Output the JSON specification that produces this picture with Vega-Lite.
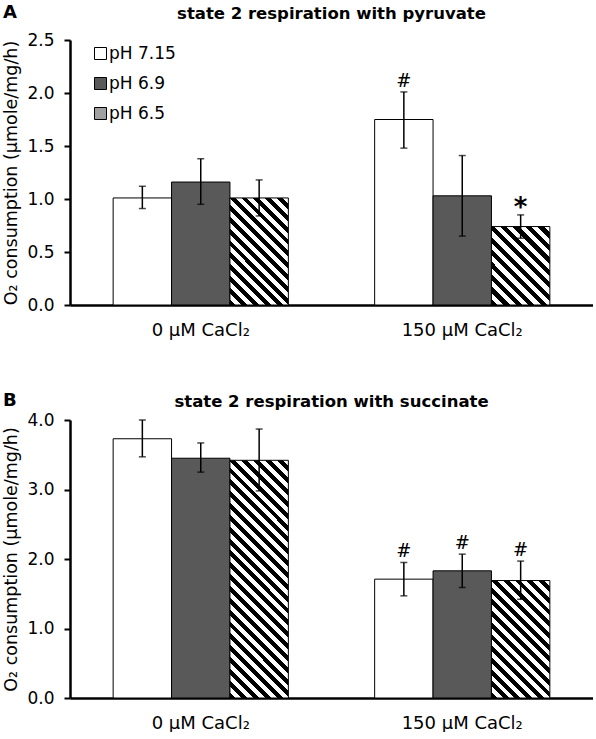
{
  "$schema": "https://vega.github.io/schema/vega-lite/v6.json",
  "padding": {"left": 2, "right": 0, "top": 3, "bottom": 0},
  "config": {
    "font": "DejaVu Sans",
    "view": {"stroke": null},
    "title": {"fontSize": 16.5, "fontWeight": "bold", "color": "#000", "font": "DejaVu Sans"},
    "axisY": {"domainColor": "#000", "domainWidth": 2.5, "tickColor": "#000", "tickWidth": 2, "tickSize": 6, "labelFontSize": 17, "labelColor": "#000", "labelPadding": 10, "titleFontSize": 17.5, "titleFontWeight": "normal", "titleColor": "#000", "titlePadding": 6, "grid": false},
    "axisX": {"domainColor": "#000", "domainWidth": 2.5, "ticks": false, "labelFontSize": 18, "labelColor": "#000", "labelPadding": 16, "labelAngle": 0, "grid": false}
  },
  "datasets": {
    "A": [
      {"cond": "0 µM CaCl₂", "pH": "pH 7.15", "mean": 1.01, "lo": 0.91, "hi": 1.12, "sig": ""},
      {"cond": "0 µM CaCl₂", "pH": "pH 6.9", "mean": 1.16, "lo": 0.95, "hi": 1.38, "sig": ""},
      {"cond": "0 µM CaCl₂", "pH": "pH 6.5", "mean": 1.01, "lo": 0.84, "hi": 1.18, "sig": ""},
      {"cond": "150 µM CaCl₂", "pH": "pH 7.15", "mean": 1.75, "lo": 1.48, "hi": 2.01, "sig": "#"},
      {"cond": "150 µM CaCl₂", "pH": "pH 6.9", "mean": 1.03, "lo": 0.65, "hi": 1.41, "sig": ""},
      {"cond": "150 µM CaCl₂", "pH": "pH 6.5", "mean": 0.74, "lo": 0.63, "hi": 0.85, "sig": "*"}
    ],
    "B": [
      {"cond": "0 µM CaCl₂", "pH": "pH 7.15", "mean": 3.73, "lo": 3.47, "hi": 4.0, "sig": ""},
      {"cond": "0 µM CaCl₂", "pH": "pH 6.9", "mean": 3.45, "lo": 3.25, "hi": 3.67, "sig": ""},
      {"cond": "0 µM CaCl₂", "pH": "pH 6.5", "mean": 3.42, "lo": 2.98, "hi": 3.87, "sig": ""},
      {"cond": "150 µM CaCl₂", "pH": "pH 7.15", "mean": 1.71, "lo": 1.47, "hi": 1.95, "sig": "#"},
      {"cond": "150 µM CaCl₂", "pH": "pH 6.9", "mean": 1.83, "lo": 1.59, "hi": 2.07, "sig": "#"},
      {"cond": "150 µM CaCl₂", "pH": "pH 6.5", "mean": 1.69, "lo": 1.42, "hi": 1.97, "sig": "#"}
    ]
  },
  "spacing": 52,
  "resolve": {"scale": {"fill": "independent"}},
  "vconcat": [
    {
      "title": {"text": "A", "anchor": "start", "frame": "bounds", "fontSize": 18, "dy": 20},
      "resolve": {"scale": {"fill": "independent"}},
      "vconcat": [
        {
          "title": {"text": "state 2 respiration with pyruvate", "anchor": "middle", "frame": "group", "offset": 9},
          "width": 523,
          "height": 265,
          "data": {"name": "A"},
          "encoding": {
            "x": {"field": "cond", "type": "nominal", "sort": ["0 µM CaCl₂", "150 µM CaCl₂"], "scale": {"paddingInner": 0.33, "paddingOuter": 0.165}, "title": null},
            "xOffset": {"field": "pH", "type": "nominal", "sort": ["pH 7.15", "pH 6.9", "pH 6.5"], "scale": {"paddingInner": 0, "paddingOuter": 0}}
          },
          "layer": [
            {
              "mark": {"type": "bar", "stroke": "#000", "strokeWidth": 1},
              "encoding": {
                "y": {"field": "mean", "type": "quantitative", "scale": {"domain": [0, 2.5], "nice": false}, "axis": {"values": [0, 0.5, 1, 1.5, 2, 2.5], "format": ".1f"}, "title": "O₂ consumption (µmole/mg/h)"},
                "fill": {
                  "condition": [
                    {"test": "datum.pH === 'pH 6.5' && datum.cond === '0 µM CaCl₂'", "value": {"gradient": "linear", "x1": 0, "y1": 1, "x2": 0.65, "y2": -0.19, "stops": [
                      {"offset": 0, "color": "black"}, {"offset": 0.0357, "color": "black"}, {"offset": 0.0357, "color": "white"}, {"offset": 0.0714, "color": "white"},
                      {"offset": 0.0714, "color": "black"}, {"offset": 0.1071, "color": "black"}, {"offset": 0.1071, "color": "white"}, {"offset": 0.1429, "color": "white"},
                      {"offset": 0.1429, "color": "black"}, {"offset": 0.1786, "color": "black"}, {"offset": 0.1786, "color": "white"}, {"offset": 0.2143, "color": "white"},
                      {"offset": 0.2143, "color": "black"}, {"offset": 0.25, "color": "black"}, {"offset": 0.25, "color": "white"}, {"offset": 0.2857, "color": "white"},
                      {"offset": 0.2857, "color": "black"}, {"offset": 0.3214, "color": "black"}, {"offset": 0.3214, "color": "white"}, {"offset": 0.3571, "color": "white"},
                      {"offset": 0.3571, "color": "black"}, {"offset": 0.3929, "color": "black"}, {"offset": 0.3929, "color": "white"}, {"offset": 0.4286, "color": "white"},
                      {"offset": 0.4286, "color": "black"}, {"offset": 0.4643, "color": "black"}, {"offset": 0.4643, "color": "white"}, {"offset": 0.5, "color": "white"},
                      {"offset": 0.5, "color": "black"}, {"offset": 0.5357, "color": "black"}, {"offset": 0.5357, "color": "white"}, {"offset": 0.5714, "color": "white"},
                      {"offset": 0.5714, "color": "black"}, {"offset": 0.6071, "color": "black"}, {"offset": 0.6071, "color": "white"}, {"offset": 0.6429, "color": "white"},
                      {"offset": 0.6429, "color": "black"}, {"offset": 0.6786, "color": "black"}, {"offset": 0.6786, "color": "white"}, {"offset": 0.7143, "color": "white"},
                      {"offset": 0.7143, "color": "black"}, {"offset": 0.75, "color": "black"}, {"offset": 0.75, "color": "white"}, {"offset": 0.7857, "color": "white"},
                      {"offset": 0.7857, "color": "black"}, {"offset": 0.8214, "color": "black"}, {"offset": 0.8214, "color": "white"}, {"offset": 0.8571, "color": "white"},
                      {"offset": 0.8571, "color": "black"}, {"offset": 0.8929, "color": "black"}, {"offset": 0.8929, "color": "white"}, {"offset": 0.9286, "color": "white"},
                      {"offset": 0.9286, "color": "black"}, {"offset": 0.9643, "color": "black"}, {"offset": 0.9643, "color": "white"}, {"offset": 1, "color": "white"}
                    ]}},
                    {"test": "datum.pH === 'pH 6.5' && datum.cond === '150 µM CaCl₂'", "value": {"gradient": "linear", "x1": 0, "y1": 1, "x2": 0.836, "y2": -0.122, "stops": [
                      {"offset": 0, "color": "black"}, {"offset": 0.0455, "color": "black"}, {"offset": 0.0455, "color": "white"}, {"offset": 0.0909, "color": "white"},
                      {"offset": 0.0909, "color": "black"}, {"offset": 0.1364, "color": "black"}, {"offset": 0.1364, "color": "white"}, {"offset": 0.1818, "color": "white"},
                      {"offset": 0.1818, "color": "black"}, {"offset": 0.2273, "color": "black"}, {"offset": 0.2273, "color": "white"}, {"offset": 0.2727, "color": "white"},
                      {"offset": 0.2727, "color": "black"}, {"offset": 0.3182, "color": "black"}, {"offset": 0.3182, "color": "white"}, {"offset": 0.3636, "color": "white"},
                      {"offset": 0.3636, "color": "black"}, {"offset": 0.4091, "color": "black"}, {"offset": 0.4091, "color": "white"}, {"offset": 0.4545, "color": "white"},
                      {"offset": 0.4545, "color": "black"}, {"offset": 0.5, "color": "black"}, {"offset": 0.5, "color": "white"}, {"offset": 0.5455, "color": "white"},
                      {"offset": 0.5455, "color": "black"}, {"offset": 0.5909, "color": "black"}, {"offset": 0.5909, "color": "white"}, {"offset": 0.6364, "color": "white"},
                      {"offset": 0.6364, "color": "black"}, {"offset": 0.6818, "color": "black"}, {"offset": 0.6818, "color": "white"}, {"offset": 0.7273, "color": "white"},
                      {"offset": 0.7273, "color": "black"}, {"offset": 0.7727, "color": "black"}, {"offset": 0.7727, "color": "white"}, {"offset": 0.8182, "color": "white"},
                      {"offset": 0.8182, "color": "black"}, {"offset": 0.8636, "color": "black"}, {"offset": 0.8636, "color": "white"}, {"offset": 0.9091, "color": "white"},
                      {"offset": 0.9091, "color": "black"}, {"offset": 0.9545, "color": "black"}, {"offset": 0.9545, "color": "white"}, {"offset": 1, "color": "white"}
                    ]}}
                  ],
                  "field": "pH",
                  "type": "nominal",
                  "sort": ["pH 7.15", "pH 6.9", "pH 6.5"],
                  "scale": {"domain": ["pH 7.15", "pH 6.9", "pH 6.5"], "range": ["#ffffff", "#595959", "#a0a0a0"]},
                  "legend": {
                    "orient": "none", "legendX": 22, "legendY": 5, "title": null, "symbolType": "square", "symbolSize": 144, "symbolStrokeColor": "#000", "symbolStrokeWidth": 1, "symbolOpacity": 1, "labelFontSize": 17, "labelColor": "#000", "rowPadding": 12, "labelOffset": 0,
                    "encode": {"symbols": {"update": {
                      "fill": {"signal": "datum.value === 'pH 7.15' ? '#ffffff' : (datum.value === 'pH 6.9' ? '#595959' : {gradient: 'linear', x1: 0, y1: 1, x2: 1, y2: 0, stops: [{offset: 0, color: 'black'}, {offset: 0.3, color: 'black'}, {offset: 0.3, color: 'white'}, {offset: 0.5, color: 'white'}, {offset: 0.5, color: 'black'}, {offset: 0.7, color: 'black'}, {offset: 0.7, color: 'white'}, {offset: 1, color: 'white'}]})"},
                      "stroke": {"value": "#000"},
                      "strokeWidth": {"value": 1}
                    }}}
                  }
                }
              }
            },
            {
              "mark": {"type": "rule", "color": "#000", "strokeWidth": 1.5},
              "encoding": {
                "y": {"field": "lo", "type": "quantitative", "title": "O₂ consumption (µmole/mg/h)"},
                "y2": {"field": "hi"}
              }
            },
            {
              "mark": {"type": "tick", "orient": "horizontal", "color": "#000", "size": 7, "thickness": 1.5},
              "encoding": {"y": {"field": "lo", "type": "quantitative", "title": "O₂ consumption (µmole/mg/h)"}}
            },
            {
              "mark": {"type": "tick", "orient": "horizontal", "color": "#000", "size": 7, "thickness": 1.5},
              "encoding": {"y": {"field": "hi", "type": "quantitative", "title": "O₂ consumption (µmole/mg/h)"}}
            },
            {
              "transform": [{"filter": "datum.sig === '#'"}],
              "mark": {"type": "text", "font": "DejaVu Serif", "fontSize": 18, "baseline": "alphabetic", "dy": -5, "color": "#000"},
              "encoding": {"y": {"field": "hi", "type": "quantitative", "title": "O₂ consumption (µmole/mg/h)"}, "text": {"field": "sig"}}
            },
            {
              "transform": [{"filter": "datum.sig === '*'"}],
              "mark": {"type": "text", "font": "DejaVu Sans", "fontWeight": "bold", "fontSize": 26, "baseline": "alphabetic", "dy": 1, "color": "#000"},
              "encoding": {"y": {"field": "hi", "type": "quantitative", "title": "O₂ consumption (µmole/mg/h)"}, "text": {"field": "sig"}}
            }
          ]
        }
      ]
    },
    {
      "title": {"text": "B", "anchor": "start", "frame": "bounds", "fontSize": 18, "dy": 20},
      "resolve": {"scale": {"fill": "independent"}},
      "vconcat": [
        {
          "title": {"text": "state 2 respiration with succinate", "anchor": "middle", "frame": "group", "offset": 1},
          "width": 523,
          "height": 278,
          "data": {"name": "B"},
          "encoding": {
            "x": {"field": "cond", "type": "nominal", "sort": ["0 µM CaCl₂", "150 µM CaCl₂"], "scale": {"paddingInner": 0.33, "paddingOuter": 0.165}, "title": null},
            "xOffset": {"field": "pH", "type": "nominal", "sort": ["pH 7.15", "pH 6.9", "pH 6.5"], "scale": {"paddingInner": 0, "paddingOuter": 0}}
          },
          "layer": [
            {
              "mark": {"type": "bar", "stroke": "#000", "strokeWidth": 1},
              "encoding": {
                "y": {"field": "mean", "type": "quantitative", "scale": {"domain": [0, 4], "nice": false}, "axis": {"values": [0, 1, 2, 3, 4], "format": ".1f"}, "title": "O₂ consumption (µmole/mg/h)"},
                "fill": {
                  "condition": [
                    {"test": "datum.pH === 'pH 6.5' && datum.cond === '0 µM CaCl₂'", "value": {"gradient": "linear", "x1": 0, "y1": 1, "x2": 0.289, "y2": -0.175, "stops": [
                      {"offset": 0, "color": "black"}, {"offset": 0.02, "color": "black"}, {"offset": 0.02, "color": "white"}, {"offset": 0.04, "color": "white"},
                      {"offset": 0.04, "color": "black"}, {"offset": 0.06, "color": "black"}, {"offset": 0.06, "color": "white"}, {"offset": 0.08, "color": "white"},
                      {"offset": 0.08, "color": "black"}, {"offset": 0.1, "color": "black"}, {"offset": 0.1, "color": "white"}, {"offset": 0.12, "color": "white"},
                      {"offset": 0.12, "color": "black"}, {"offset": 0.14, "color": "black"}, {"offset": 0.14, "color": "white"}, {"offset": 0.16, "color": "white"},
                      {"offset": 0.16, "color": "black"}, {"offset": 0.18, "color": "black"}, {"offset": 0.18, "color": "white"}, {"offset": 0.2, "color": "white"},
                      {"offset": 0.2, "color": "black"}, {"offset": 0.22, "color": "black"}, {"offset": 0.22, "color": "white"}, {"offset": 0.24, "color": "white"},
                      {"offset": 0.24, "color": "black"}, {"offset": 0.26, "color": "black"}, {"offset": 0.26, "color": "white"}, {"offset": 0.28, "color": "white"},
                      {"offset": 0.28, "color": "black"}, {"offset": 0.3, "color": "black"}, {"offset": 0.3, "color": "white"}, {"offset": 0.32, "color": "white"},
                      {"offset": 0.32, "color": "black"}, {"offset": 0.34, "color": "black"}, {"offset": 0.34, "color": "white"}, {"offset": 0.36, "color": "white"},
                      {"offset": 0.36, "color": "black"}, {"offset": 0.38, "color": "black"}, {"offset": 0.38, "color": "white"}, {"offset": 0.4, "color": "white"},
                      {"offset": 0.4, "color": "black"}, {"offset": 0.42, "color": "black"}, {"offset": 0.42, "color": "white"}, {"offset": 0.44, "color": "white"},
                      {"offset": 0.44, "color": "black"}, {"offset": 0.46, "color": "black"}, {"offset": 0.46, "color": "white"}, {"offset": 0.48, "color": "white"},
                      {"offset": 0.48, "color": "black"}, {"offset": 0.5, "color": "black"}, {"offset": 0.5, "color": "white"}, {"offset": 0.52, "color": "white"},
                      {"offset": 0.52, "color": "black"}, {"offset": 0.54, "color": "black"}, {"offset": 0.54, "color": "white"}, {"offset": 0.56, "color": "white"},
                      {"offset": 0.56, "color": "black"}, {"offset": 0.58, "color": "black"}, {"offset": 0.58, "color": "white"}, {"offset": 0.6, "color": "white"},
                      {"offset": 0.6, "color": "black"}, {"offset": 0.62, "color": "black"}, {"offset": 0.62, "color": "white"}, {"offset": 0.64, "color": "white"},
                      {"offset": 0.64, "color": "black"}, {"offset": 0.66, "color": "black"}, {"offset": 0.66, "color": "white"}, {"offset": 0.68, "color": "white"},
                      {"offset": 0.68, "color": "black"}, {"offset": 0.7, "color": "black"}, {"offset": 0.7, "color": "white"}, {"offset": 0.72, "color": "white"},
                      {"offset": 0.72, "color": "black"}, {"offset": 0.74, "color": "black"}, {"offset": 0.74, "color": "white"}, {"offset": 0.76, "color": "white"},
                      {"offset": 0.76, "color": "black"}, {"offset": 0.78, "color": "black"}, {"offset": 0.78, "color": "white"}, {"offset": 0.8, "color": "white"},
                      {"offset": 0.8, "color": "black"}, {"offset": 0.82, "color": "black"}, {"offset": 0.82, "color": "white"}, {"offset": 0.84, "color": "white"},
                      {"offset": 0.84, "color": "black"}, {"offset": 0.86, "color": "black"}, {"offset": 0.86, "color": "white"}, {"offset": 0.88, "color": "white"},
                      {"offset": 0.88, "color": "black"}, {"offset": 0.9, "color": "black"}, {"offset": 0.9, "color": "white"}, {"offset": 0.92, "color": "white"},
                      {"offset": 0.92, "color": "black"}, {"offset": 0.94, "color": "black"}, {"offset": 0.94, "color": "white"}, {"offset": 0.96, "color": "white"},
                      {"offset": 0.96, "color": "black"}, {"offset": 0.98, "color": "black"}, {"offset": 0.98, "color": "white"}, {"offset": 1, "color": "white"}
                    ]}},
                    {"test": "datum.pH === 'pH 6.5' && datum.cond === '150 µM CaCl₂'", "value": {"gradient": "linear", "x1": 0, "y1": 1, "x2": 0.597, "y2": -0.2, "stops": [
                      {"offset": 0, "color": "black"}, {"offset": 0.0333, "color": "black"}, {"offset": 0.0333, "color": "white"}, {"offset": 0.0667, "color": "white"},
                      {"offset": 0.0667, "color": "black"}, {"offset": 0.1, "color": "black"}, {"offset": 0.1, "color": "white"}, {"offset": 0.1333, "color": "white"},
                      {"offset": 0.1333, "color": "black"}, {"offset": 0.1667, "color": "black"}, {"offset": 0.1667, "color": "white"}, {"offset": 0.2, "color": "white"},
                      {"offset": 0.2, "color": "black"}, {"offset": 0.2333, "color": "black"}, {"offset": 0.2333, "color": "white"}, {"offset": 0.2667, "color": "white"},
                      {"offset": 0.2667, "color": "black"}, {"offset": 0.3, "color": "black"}, {"offset": 0.3, "color": "white"}, {"offset": 0.3333, "color": "white"},
                      {"offset": 0.3333, "color": "black"}, {"offset": 0.3667, "color": "black"}, {"offset": 0.3667, "color": "white"}, {"offset": 0.4, "color": "white"},
                      {"offset": 0.4, "color": "black"}, {"offset": 0.4333, "color": "black"}, {"offset": 0.4333, "color": "white"}, {"offset": 0.4667, "color": "white"},
                      {"offset": 0.4667, "color": "black"}, {"offset": 0.5, "color": "black"}, {"offset": 0.5, "color": "white"}, {"offset": 0.5333, "color": "white"},
                      {"offset": 0.5333, "color": "black"}, {"offset": 0.5667, "color": "black"}, {"offset": 0.5667, "color": "white"}, {"offset": 0.6, "color": "white"},
                      {"offset": 0.6, "color": "black"}, {"offset": 0.6333, "color": "black"}, {"offset": 0.6333, "color": "white"}, {"offset": 0.6667, "color": "white"},
                      {"offset": 0.6667, "color": "black"}, {"offset": 0.7, "color": "black"}, {"offset": 0.7, "color": "white"}, {"offset": 0.7333, "color": "white"},
                      {"offset": 0.7333, "color": "black"}, {"offset": 0.7667, "color": "black"}, {"offset": 0.7667, "color": "white"}, {"offset": 0.8, "color": "white"},
                      {"offset": 0.8, "color": "black"}, {"offset": 0.8333, "color": "black"}, {"offset": 0.8333, "color": "white"}, {"offset": 0.8667, "color": "white"},
                      {"offset": 0.8667, "color": "black"}, {"offset": 0.9, "color": "black"}, {"offset": 0.9, "color": "white"}, {"offset": 0.9333, "color": "white"},
                      {"offset": 0.9333, "color": "black"}, {"offset": 0.9667, "color": "black"}, {"offset": 0.9667, "color": "white"}, {"offset": 1, "color": "white"}
                    ]}}
                  ],
                  "field": "pH",
                  "type": "nominal",
                  "sort": ["pH 7.15", "pH 6.9", "pH 6.5"],
                  "scale": {"domain": ["pH 7.15", "pH 6.9", "pH 6.5"], "range": ["#ffffff", "#595959", "#ffffff"]},
                  "legend": null
                }
              }
            },
            {
              "mark": {"type": "rule", "color": "#000", "strokeWidth": 1.5},
              "encoding": {
                "y": {"field": "lo", "type": "quantitative", "title": "O₂ consumption (µmole/mg/h)"},
                "y2": {"field": "hi"}
              }
            },
            {
              "mark": {"type": "tick", "orient": "horizontal", "color": "#000", "size": 7, "thickness": 1.5},
              "encoding": {"y": {"field": "lo", "type": "quantitative", "title": "O₂ consumption (µmole/mg/h)"}}
            },
            {
              "mark": {"type": "tick", "orient": "horizontal", "color": "#000", "size": 7, "thickness": 1.5},
              "encoding": {"y": {"field": "hi", "type": "quantitative", "title": "O₂ consumption (µmole/mg/h)"}}
            },
            {
              "transform": [{"filter": "datum.sig === '#'"}],
              "mark": {"type": "text", "font": "DejaVu Serif", "fontSize": 18, "baseline": "alphabetic", "dy": -5, "color": "#000"},
              "encoding": {"y": {"field": "hi", "type": "quantitative", "title": "O₂ consumption (µmole/mg/h)"}, "text": {"field": "sig"}}
            }
          ]
        }
      ]
    }
  ]
}
